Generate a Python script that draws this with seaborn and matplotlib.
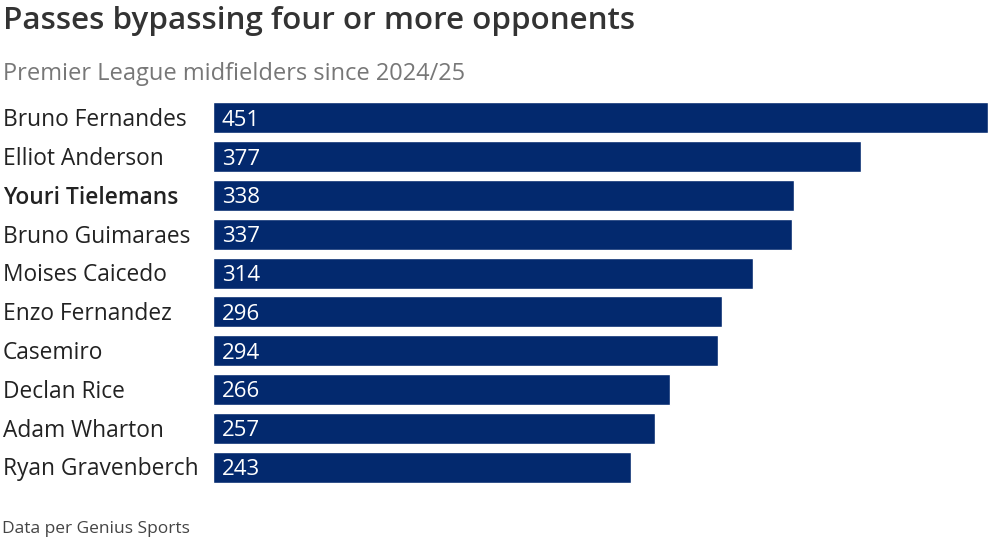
import pandas as pd
import matplotlib.pyplot as plt
import seaborn as sns

players = ['Bruno Fernandes', 'Elliot Anderson', 'Youri Tielemans', 'Bruno Guimaraes',
           'Moises Caicedo', 'Enzo Fernandez', 'Casemiro', 'Declan Rice',
           'Adam Wharton', 'Ryan Gravenberch']
passes = [451, 377, 338, 337, 314, 296, 294, 266, 257, 243]
highlight = 'Youri Tielemans'

df = pd.DataFrame({'player': players, 'passes': passes})

sns.set_style('white')
plt.rcParams['font.family'] = ['Open Sans', 'DejaVu Sans']

fig = plt.figure(figsize=(10, 5.54), dpi=100)
ax = fig.add_axes([0.213, 0.1218, 0.775, 0.7004])

sns.barplot(data=df, x='passes', y='player', orient='h', color='#03296e',
            saturation=1, width=0.8, ax=ax)

ax.set_xlim(0, max(passes))
ax.set_xlabel('')
ax.set_ylabel('')
ax.set_xticks([])
ax.tick_params(axis='y', length=0, pad=0)
ax.set_yticklabels([])
sns.despine(ax=ax, left=True, bottom=True)

# player names on the left, values inside bars
for i, (name, val) in enumerate(zip(players, passes)):
    ax.text(-210 / 775 * max(passes), i + 0.06, name, ha='left', va='center',
            fontsize=16.4, color='#222222',
            fontweight='semibold' if name == highlight else 'normal')
    ax.text(5, i + 0.06, str(val), ha='left', va='center', fontsize=16,
            color='white')

fig.text(0.003, 0.962, 'Passes bypassing four or more opponents', fontsize=22.6,
         fontweight='semibold', color='#333333', va='center')
fig.text(0.003, 0.866, 'Premier League midfielders since 2024/25', fontsize=17,
         color='#777777', va='center')
fig.text(0.002, 0.046, 'Data per Genius Sports', fontsize=12.5, color='#444444',
         va='center')

fig.savefig('out.png', dpi=100, facecolor='white')
